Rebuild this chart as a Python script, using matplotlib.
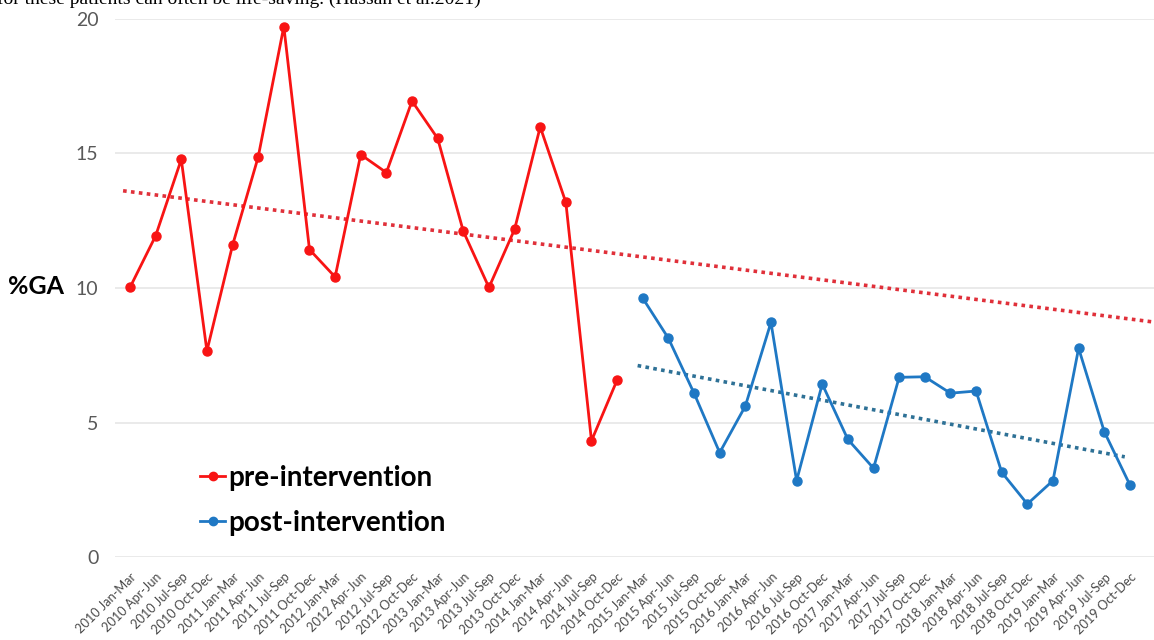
import numpy as np
import matplotlib
matplotlib.use("Agg")
import matplotlib.pyplot as plt
from matplotlib.lines import Line2D

quarters = ["Jan-Mar", "Apr-Jun", "Jul-Sep", "Oct-Dec"]
years = list(range(2010, 2020))
tick_labels = [f"{y} {q}" for y in years for q in quarters]

pre_values = [10.02, 11.94, 14.78, 7.66, 11.59, 14.87, 19.72, 11.43, 10.41, 14.96,
              14.29, 16.95, 15.56, 12.11, 10.02, 12.18, 15.99, 13.18, 4.32, 6.58]
post_values = [9.62, 8.13, 6.09, 3.88, 5.61, 8.72, 2.84, 6.43, 4.37, 3.30,
               6.68, 6.70, 6.09, 6.17, 3.15, 1.97, 2.84, 7.76, 4.66, 2.68]

plt.rcParams['font.family'] = ['Lato', 'DejaVu Sans']

RED = "#F81414"
BLUE = "#1F78C4"
RED_TREND = "#E0303A"
BLUE_TREND = "#2E7196"

fig = plt.figure(figsize=(11.54, 6.4), dpi=100)
ax = fig.add_axes([115/1154, 83/640, 1 - 115/1154, (557-19)/640])

x_pre = np.arange(len(pre_values))
x_post = np.arange(len(pre_values), len(pre_values) + len(post_values))

xmin, xmax = -0.585, 39.94
ax.set_xlim(xmin, xmax)
ax.set_ylim(0, 20)

# linear trend lines fitted to each series
p_pre = np.polyfit(x_pre, pre_values, 1)
xt = np.array([-0.27, xmax])
ax.plot(xt, np.polyval(p_pre, xt), linestyle=(0, (1, 1.2)), color=RED_TREND, lw=2.6, zorder=2)
p_post = np.polyfit(x_post, post_values, 1)
xt2 = np.array([x_post[0] - 0.2, x_post[-1] - 0.2])
ax.plot(xt2, np.polyval(p_post, xt2), linestyle=(0, (1, 1.2)), color=BLUE_TREND, lw=2.6, zorder=2)

ax.plot(x_pre, pre_values, color=RED, lw=2, marker='o', ms=6.5, zorder=3)
ax.plot(x_post, post_values, color=BLUE, lw=2, marker='o', ms=6.5, zorder=3)

ax.set_yticks([0, 5, 10, 15, 20])
ax.yaxis.grid(True, color="#e6e6e6", lw=1.2)
ax.set_axisbelow(True)
for s in ax.spines.values():
    s.set_visible(False)
ax.tick_params(axis='y', length=0, pad=12, labelsize=14, labelcolor="#595959")
ax.set_xticks(np.arange(len(tick_labels)))
ax.set_xticklabels(tick_labels, rotation=45, ha='right', rotation_mode='anchor',
                   fontsize=9.2, color="#4a4a4a")
ax.tick_params(axis='x', length=0, pad=10)

fig.text(8/1154, (640-287)/640, "%GA", fontsize=18, fontweight='bold', color='black',
         ha='left', va='center')

handles = [Line2D([], [], color=RED, lw=2, marker='o', ms=6),
           Line2D([], [], color=BLUE, lw=2, marker='o', ms=6)]
leg = fig.legend(handles, ["pre-intervention", "post-intervention"],
                 loc='upper left', bbox_to_anchor=(200/1154, (640-465)/640),
                 bbox_transform=fig.transFigure, frameon=False,
                 prop={'family': ['Lato', 'DejaVu Sans'], 'weight': 'bold', 'size': 20},
                 handlelength=0.9, handletextpad=0.1, labelspacing=0.68, borderaxespad=0,
                 borderpad=0)

fig.text(-3/1154, (640-4)/640, "for these patients can often be life-saving. (Hassan et al.2021)",
         family=['Liberation Serif', 'DejaVu Serif'], fontsize=14, color='black',
         ha='left', va='baseline')

fig.savefig("out.png", dpi=100)
